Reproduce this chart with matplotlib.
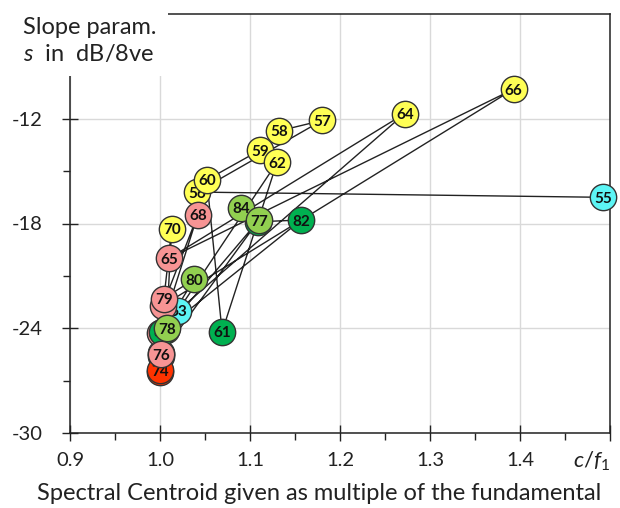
import numpy as np
import matplotlib
matplotlib.use('Agg')
import matplotlib.pyplot as plt
from matplotlib.patches import Rectangle

plt.rcParams['font.family'] = ['Lato', 'DejaVu Sans']
plt.rcParams['mathtext.fontset'] = 'custom'
plt.rcParams['mathtext.rm'] = 'Lato'
plt.rcParams['mathtext.it'] = 'Lato:italic'
plt.rcParams['axes.unicode_minus'] = False

# MIDI note number of each tone, its spectral centroid (c/f1) and slope s (dB/8ve)
notes = [55, 56, 57, 58, 59, 60, 61, 62, 63, 64,
         65, 66, 67, 68, 69, 70, 71, 72, 73, 74,
         75, 76, 77, 78, 79, 80, 81, 82, 83, 84]
centroid = [1.492, 1.041, 1.180, 1.132, 1.111, 1.052, 1.069, 1.130, 1.020, 1.272,
            1.010, 1.393, 1.003, 1.042, 1.000, 1.013, 1.007, 1.001, 1.000, 1.000,
            1.001, 1.001, 1.110, 1.008, 1.004, 1.038, 1.002, 1.157, 1.109, 1.090]
slope = [-16.5, -16.2, -12.1, -12.7, -13.8, -15.5, -24.2, -14.5, -23.0, -11.7,
         -20.0, -10.3, -22.7, -17.5, -24.3, -18.3, -24.1, -25.6, -26.5, -26.4,
         -25.4, -25.5, -17.8, -24.0, -22.3, -21.2, -24.2, -17.8, -17.9, -17.1]
group = ['cyan', 'yellow', 'yellow', 'yellow', 'yellow', 'yellow', 'dgreen', 'yellow', 'cyan', 'yellow',
         'pink', 'yellow', 'pink', 'pink', 'pink', 'yellow', 'lgreen', 'pink', 'red', 'red',
         'pink', 'pink', 'lgreen', 'lgreen', 'pink', 'lgreen', 'dgreen', 'dgreen', 'dgreen', 'lgreen']

colors = {'yellow': '#FFFF55', 'pink': '#F79494', 'lgreen': '#92D050',
          'dgreen': '#00B050', 'cyan': '#5CF5F5', 'red': '#FF3300'}

# stacking order of the circles (first = bottom)
draw_order = [73, 72, 75, 69, 71, 81, 83,
              55, 56, 57, 58, 59, 60, 61, 62, 63, 64, 65, 66, 67, 68, 70,
              74, 76, 78, 79, 80, 82, 84, 77]

fig = plt.figure(figsize=(6.2, 5.08), dpi=100)
ax = fig.add_axes([70 / 620, 75 / 508, 540 / 620, 419 / 508])

# connect the tones in note order
ax.plot(centroid, slope, color='#222222', lw=1.0, zorder=2)

for k, n in enumerate(draw_order):
    i = notes.index(n)
    z = 3 + 2 * k
    ax.scatter(centroid[i], slope[i], s=360, color=colors[group[i]],
               edgecolors='#333333', linewidths=1.0, zorder=z, clip_on=False)
    ax.text(centroid[i], slope[i], str(n), ha='center', va='center_baseline',
            fontsize=11, fontweight='bold', color='#111111', zorder=z + 1)

ax.set_xlim(0.9, 1.5)
ax.set_ylim(-30, -6)
ax.set_xticks(np.arange(0.9, 1.51, 0.1))
ax.set_xticklabels(['0.9', '1.0', '1.1', '1.2', '1.3', '1.4', ''])
ax.set_xticks(np.arange(0.95, 1.5, 0.1), minor=True)
ax.set_yticks([-30, -24, -18, -12])
ax.set_yticks([-27, -21, -15], minor=True)
ax.grid(True, which='major', color='#d9d9d9', lw=1.0, zorder=0)
ax.set_axisbelow(True)

ax.tick_params(which='major', direction='inout', length=11, width=1.0,
               labelsize=14.5, colors='#222222')
ax.tick_params(axis='x', which='major', pad=8)
ax.tick_params(axis='y', which='major', pad=14)
ax.tick_params(which='minor', direction='out', length=5, width=1.0, colors='#222222')
for sp in ax.spines.values():
    sp.set_linewidth(1.1)
    sp.set_color('#222222')

ax.text(1.48, -31.6, '$c/f_1$', ha='center', va='center', fontsize=16, color='#222222')
fig.text(319 / 620, 1 - 494 / 508, 'Spectral Centroid given as multiple of the fundamental',
         ha='center', va='center', fontsize=17, color='#222222')

# white panel behind the y-axis caption
fig.patches.append(Rectangle((0, 1 - 76 / 508), 168 / 620, 76 / 508,
                             transform=fig.transFigure, facecolor='white',
                             edgecolor='none', zorder=5))
fig.text(23 / 620, 1 - 27 / 508, 'Slope param.', ha='left', va='center',
         fontsize=17, color='#222222', zorder=6)
fig.text(23 / 620, 1 - 54 / 508, '$s$  in  dB/8ve', ha='left', va='center',
         fontsize=17, color='#222222', zorder=6)

fig.savefig('out.png', dpi=100)
